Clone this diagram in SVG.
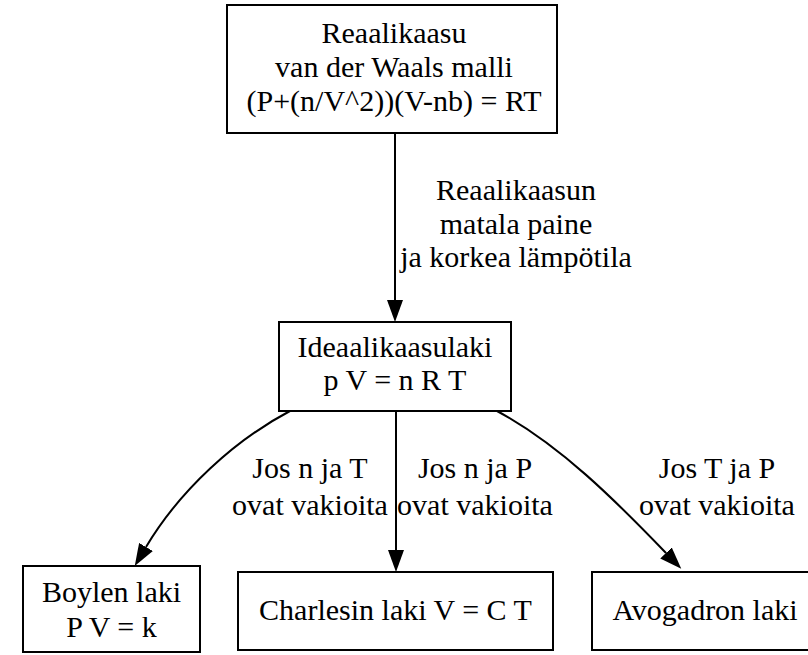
<svg xmlns="http://www.w3.org/2000/svg" width="808" height="655" viewBox="0 0 808 655">
<defs>
<style>
.box{fill:#fff;stroke:#000;stroke-width:2}
.t{font-family:'Liberation Serif',serif;font-size:30px;fill:#000;text-anchor:middle}
.e{fill:none;stroke:#000;stroke-width:2}
</style>
<marker id="ah" markerUnits="userSpaceOnUse" markerWidth="22" markerHeight="16" viewBox="0 0 22 16" refX="0" refY="8" orient="auto">
<path d="M0,0 L22,8 L0,16 z" fill="#000"/>
</marker>
</defs>
<rect width="808" height="655" fill="#fff"/>
<g id="edges">
<path class="e" d="M395,133 L395,300" marker-end="url(#ah)"/>
<path class="e" d="M290,411 C235,440 180,490 146,547" marker-end="url(#ah)"/>
<path class="e" d="M396,411 L396,550" marker-end="url(#ah)"/>
<path class="e" d="M497,411 C560,445 615,500 666,553" marker-end="url(#ah)"/>
<text class="t" x="516" y="200">Reaalikaasun</text>
<text class="t" x="516" y="234">matala paine</text>
<text class="t" x="516" y="267">ja korkea lämpötila</text>
<text class="t" x="310" y="478">Jos n ja T</text>
<text class="t" x="310" y="515">ovat vakioita</text>
<text class="t" x="475" y="478">Jos n ja P</text>
<text class="t" x="475" y="515">ovat vakioita</text>
<text class="t" x="717" y="478">Jos T ja P</text>
<text class="t" x="717" y="515">ovat vakioita</text>
</g>
<g id="reaalikaasu">
<rect class="box" x="227" y="5" width="330" height="128"/>
<text class="t" x="394" y="43">Reaalikaasu</text>
<text class="t" x="394" y="77">van der Waals malli</text>
<text class="t" x="394" y="111">(P+(n/V^2))(V-nb) = RT</text>
</g>
<g id="ideaalikaasulaki">
<rect class="box" x="279" y="322" width="232" height="89"/>
<text class="t" x="395" y="357">Ideaalikaasulaki</text>
<text class="t" x="395" y="390">p V = n R T</text>
</g>
<g id="boyle">
<rect class="box" x="23" y="566" width="177" height="86"/>
<text class="t" x="111.5" y="602">Boylen laki</text>
<text class="t" x="111.5" y="637">P V = k</text>
</g>
<g id="charles">
<rect class="box" x="238" y="572" width="315" height="78"/>
<text class="t" x="395.5" y="620">Charlesin laki V = C T</text>
</g>
<g id="avogadro">
<rect class="box" x="592" y="572" width="220" height="78"/>
<text class="t" x="705" y="620">Avogadron laki</text>
</g>
</svg>
